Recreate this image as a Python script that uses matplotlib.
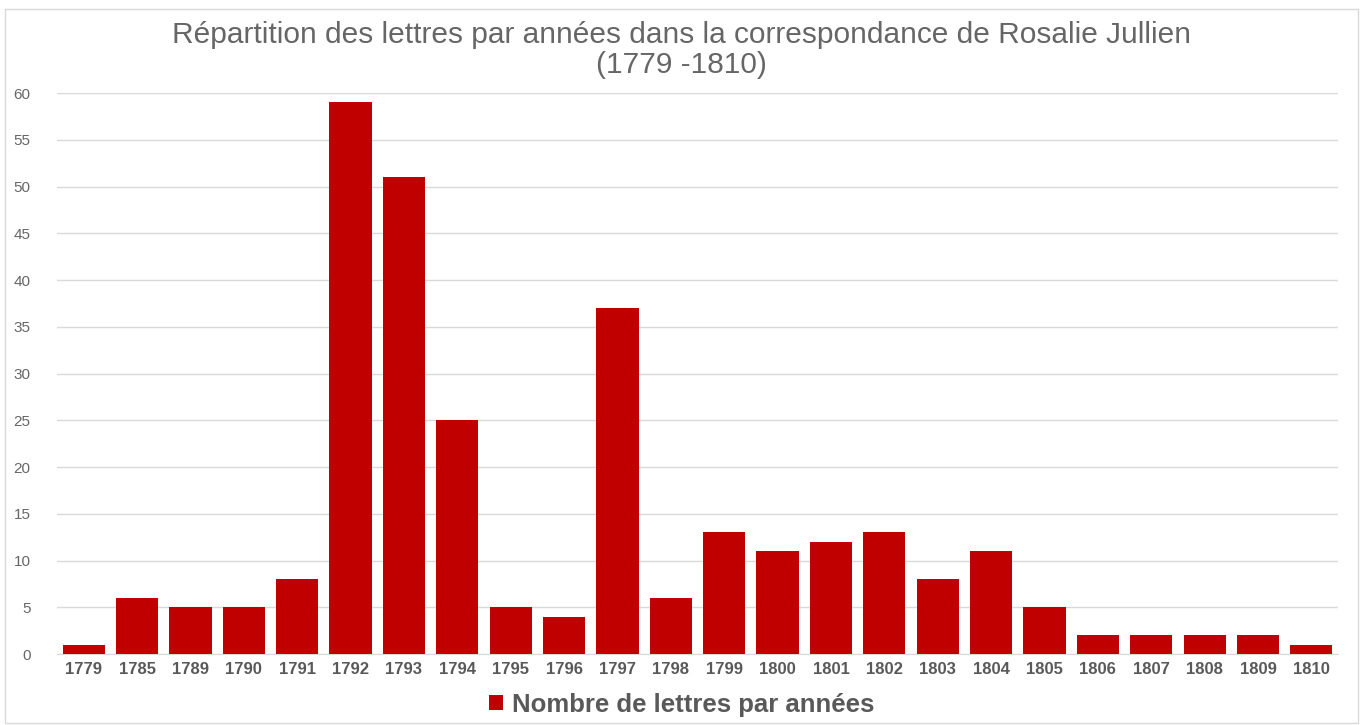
import matplotlib
matplotlib.use("Agg")
import matplotlib.pyplot as plt
from matplotlib.patches import Rectangle

plt.rcParams['font.family'] = ['Liberation Sans', 'DejaVu Sans']

# letters per year
years = ['1779', '1785', '1789', '1790', '1791', '1792', '1793', '1794',
         '1795', '1796', '1797', '1798', '1799', '1800', '1801', '1802',
         '1803', '1804', '1805', '1806', '1807', '1808', '1809', '1810']
letters = [1, 6, 5, 5, 8, 59, 51, 25, 5, 4, 37, 6, 13, 11, 12, 13,
           8, 11, 5, 2, 2, 2, 2, 1]
yticks = list(range(0, 61, 5))

BAR = '#c00000'
TXT = '#595959'

fig = plt.figure(figsize=(13.63, 7.25), dpi=100)
ax = fig.add_axes([0.0418, 0.0979, 0.9399, 0.7738])

# light frame around the whole chart
fig.patches.append(Rectangle((0.004, 0.003), 0.992, 0.985, transform=fig.transFigure,
                             fill=False, edgecolor='#d9d9d9', linewidth=1))

x = range(len(years))
ax.bar(x, letters, width=0.79, color=BAR, label='Nombre de lettres par années', zorder=3)

ax.set_xlim(-0.5, len(years) - 0.5)
ax.set_ylim(0, 60)
ax.set_yticks(yticks)
ax.set_xticks(list(x))
ax.set_xticklabels(years, fontweight='bold', fontsize=12)
ax.grid(axis='y', color='#d9d9d9', linewidth=1, zorder=0)
for s in ['top', 'right', 'left']:
    ax.spines[s].set_visible(False)
ax.spines['bottom'].set_color('#d9d9d9')
ax.tick_params(axis='both', length=0, colors=TXT)
ax.tick_params(axis='y', pad=19, labelsize=11, labelcolor='#666666')
ax.tick_params(axis='x', pad=6)

fig.text(0.5, 0.931, "Répartition des lettres par années dans la correspondance de Rosalie Jullien\n(1779 -1810)",
         ha='center', va='center', fontsize=21.5, color='#666666', linespacing=1.1)

fig.legend(loc='center', bbox_to_anchor=(0.5, 0.028), frameon=False,
           prop={'weight': 'bold', 'size': 18.5}, labelcolor=TXT,
           handlelength=0.55, handleheight=0.55, handletextpad=0.35)

fig.savefig('out.png', dpi=100)
